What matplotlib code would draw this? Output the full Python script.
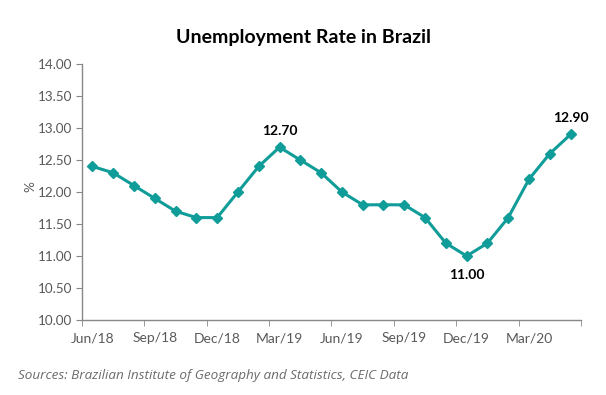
import matplotlib
matplotlib.use("Agg")
import matplotlib.pyplot as plt
import numpy as np

months = ["Jun/18","Jul/18","Aug/18","Sep/18","Oct/18","Nov/18","Dec/18","Jan/19","Feb/19",
          "Mar/19","Apr/19","May/19","Jun/19","Jul/19","Aug/19","Sep/19","Oct/19","Nov/19",
          "Dec/19","Jan/20","Feb/20","Mar/20","Apr/20","May/20"]
rate = [12.4, 12.3, 12.1, 11.9, 11.7, 11.6, 11.6, 12.0, 12.4, 12.7, 12.5, 12.3, 12.0, 11.8,
        11.8, 11.8, 11.6, 11.2, 11.0, 11.2, 11.6, 12.2, 12.6, 12.9]
yticks = [10.0, 10.5, 11.0, 11.5, 12.0, 12.5, 13.0, 13.5, 14.0]
labeled = {9: "above", 18: "below", 23: "above"}

plt.rcParams['font.family'] = ['Lato', 'DejaVu Sans']
W, H = 606, 395
fig = plt.figure(figsize=(W/100, H/100), dpi=100)
ax = fig.add_axes([82/W, 1-320/H, (581-82)/W, (320-64)/H])

x = np.arange(len(rate))
color = '#109C98'
ax.plot(x, rate, color=color, lw=2.2, marker='D', ms=5, mec=color, mfc=color)

ax.set_xlim(-0.5, len(rate)-0.5)
ax.set_ylim(10, 14)
ax.set_yticks(yticks)
ax.set_yticklabels([f"{v:.2f}" for v in yticks])
ax.set_xticks(x[::3])
ax.set_xticklabels(months[::3])
ax.set_xticks(np.arange(-0.5, len(rate), 3), minor=True)
ax.tick_params(axis='x', which='major', length=0, pad=9, labelsize=10, colors='#595959')
ax.tick_params(axis='x', which='minor', length=4, color='#888888', direction='out')
ax.tick_params(axis='y', length=4, color='#888888', labelsize=9.7, labelcolor='#595959', pad=3)
for s in ['top', 'right']:
    ax.spines[s].set_visible(False)
for s in ['left', 'bottom']:
    ax.spines[s].set_color('#888888')
    ax.spines[s].set_linewidth(1)

for i, pos in labeled.items():
    dy = 12 if pos == "above" else -14
    ax.annotate(f"{rate[i]:.2f}", (x[i], rate[i]), xytext=(0, dy), textcoords='offset points',
                ha='center', va='center', fontsize=10, fontweight='bold', color='black')

fig.text(30/W, 1-187/H, "%", rotation=90, ha='center', va='center', fontsize=9.7, color='#595959')
fig.text(303/W, 1-38/H, "Unemployment Rate in Brazil", ha='center', va='center',
         fontsize=14, fontweight='bold', color='black')
fig.text(18/W, 1-375/H, "Sources: Brazilian Institute of Geography and Statistics, CEIC Data",
         ha='left', va='center', fontsize=9.7, style='italic', color='#6b6b6b', family=['Open Sans', 'DejaVu Sans'])

fig.savefig("out.png", dpi=100)
